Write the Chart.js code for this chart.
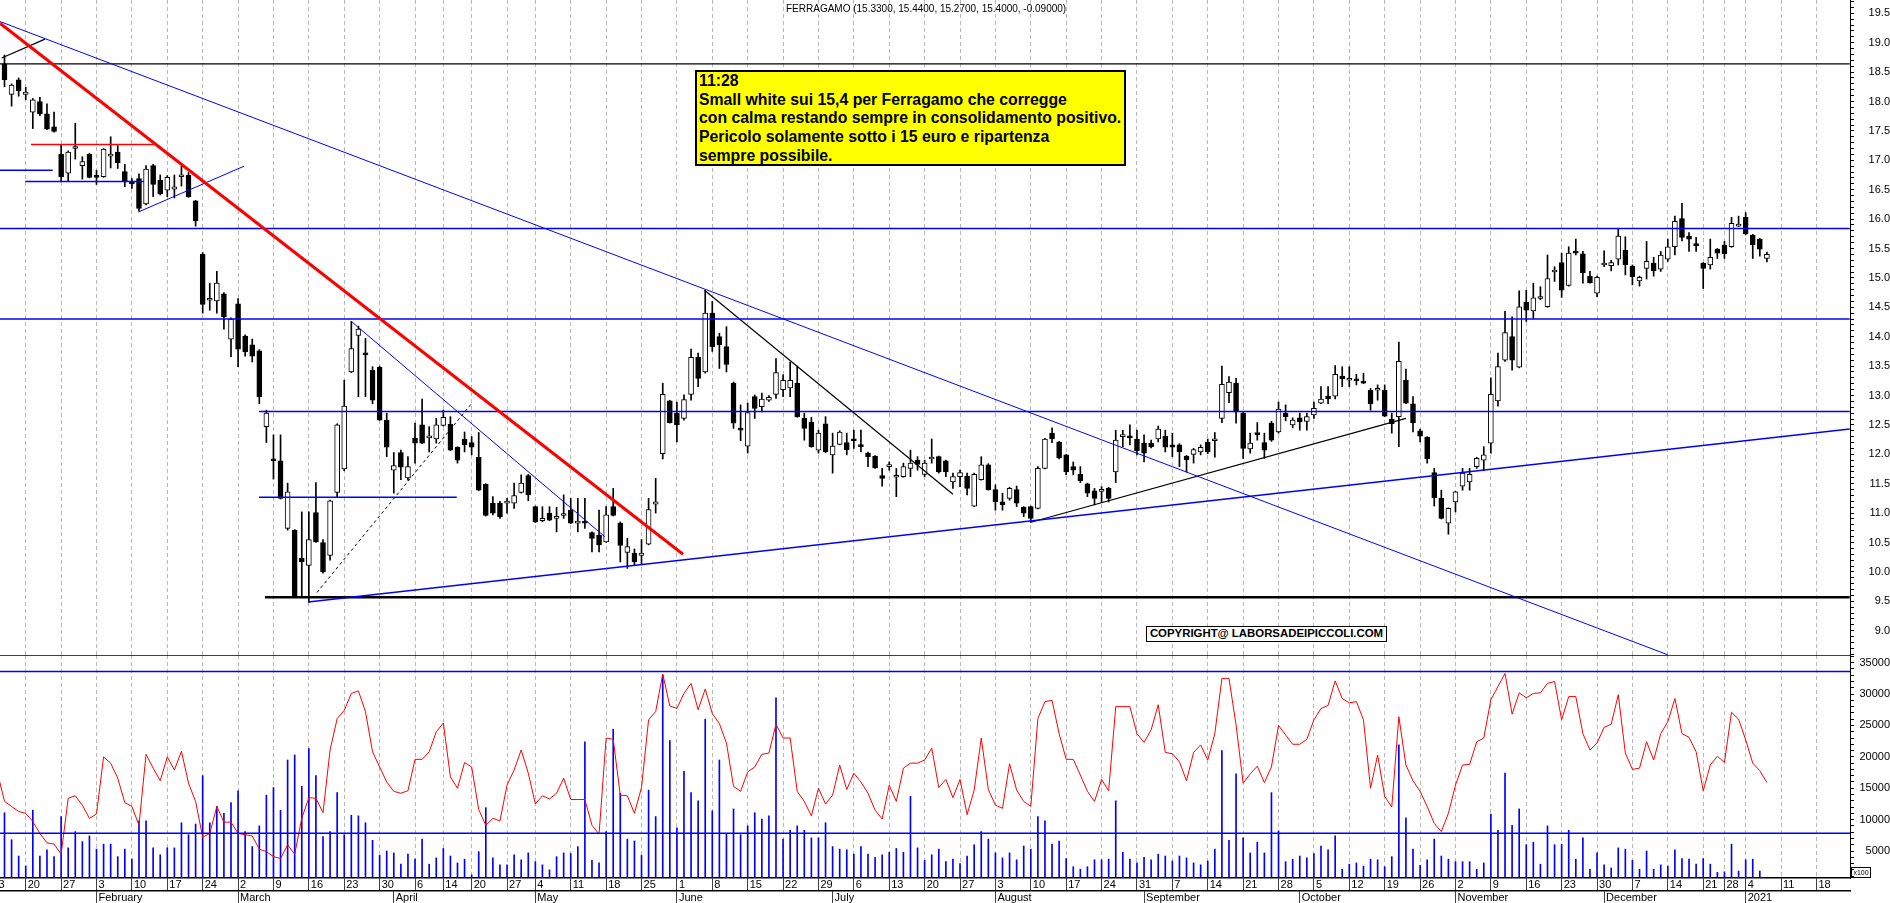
<!DOCTYPE html>
<html>
<head>
<meta charset="utf-8">
<title>FERRAGAMO</title>
<script src="https://cdn.jsdelivr.net/npm/chart.js@4.4.1/dist/chart.umd.min.js"></script>
<style>
  body { margin: 0; background: #fff; }
  #wrap { position: relative; width: 1890px; height: 903px; overflow: hidden; font-family: "Liberation Sans", Arial, sans-serif; color: #000; }
  #priceCanvas { position: absolute; left: 0; top: 0; }
  #volCanvas { position: absolute; left: 0; top: 653px; }
  #title { position: absolute; left: 786px; top: 3px; font-size: 10px; line-height: 12px; letter-spacing: 0; white-space: nowrap; }
  #note { position: absolute; left: 695px; top: 70px; width: 431px; height: 96px; box-sizing: border-box; background: #ffff00; border: 2px solid #000; padding: 0 0 0 2px; font-weight: bold; font-size: 15.8px; line-height: 18.7px; white-space: nowrap; }
  #copy { position: absolute; left: 1146px; top: 626px; width: 241px; height: 16px; box-sizing: border-box; border: 1.5px solid #000; background: #fff; font-weight: bold; font-size: 11.4px; line-height: 13px; text-align: center; white-space: nowrap; }
  #unit { position: absolute; left: 1851px; top: 867px; width: 20px; height: 11px; box-sizing: border-box; border: 1px solid #000; font-size: 7px; line-height: 9px; text-align: center; }
</style>
</head>
<body>
<div id="wrap">
  <canvas id="priceCanvas" width="1890" height="655"></canvas>
  <canvas id="volCanvas" width="1890" height="250"></canvas>
  <div id="title">FERRAGAMO (15.3300, 15.4400, 15.2700, 15.4000, -0.09000)</div>
  <div id="note">11:28<br>Small white sui 15,4 per Ferragamo che corregge<br>con calma restando sempre in consolidamento positivo.<br>Pericolo solamente sotto i 15 euro e ripartenza<br>sempre possibile.</div>
  <div id="copy">COPYRIGHT@ LABORSADEIPICCOLI.COM</div>
  <div id="unit">x100</div>
</div>
<script>
// trading day index 0 = 15 Jan 2020, last candle = 7 Jan 2021
const opens = [18.64,18.12,18.37,18.12,17.82,18.00,17.79,17.57,17.10,16.78,
 17.20,16.91,17.10,16.73,16.72,17.07,17.14,16.81,16.61,16.69,
 16.26,16.91,16.66,16.49,16.51,16.72,16.75,16.31,15.40,14.62,
 14.61,14.73,13.96,14.56,14.01,13.86,13.76,12.47,11.90,11.89,
 10.74,10.71,10.23,10.11,11.01,10.50,10.28,11.35,11.75,13.40,
 14.02,13.70,13.43,13.48,12.58,11.73,12.03,11.60,12.27,12.50,
 12.28,12.26,12.49,12.51,12.12,12.26,12.20,11.95,11.49,11.17,
 11.17,11.17,11.17,11.35,11.64,11.11,10.87,11.00,10.91,10.96,
 11.05,10.83,10.84,10.67,10.62,10.51,11.11,10.83,10.33,10.32,
 10.28,10.47,11.15,12.01,12.91,12.70,12.61,13.02,13.65,13.40,
 14.40,14.00,13.83,13.21,12.42,12.14,12.98,12.81,12.92,13.02,
 13.10,13.13,13.21,12.61,12.55,12.07,12.52,11.99,12.17,12.20,
 12.26,12.14,12.02,11.97,11.64,11.79,11.61,11.62,11.76,11.90,
 11.66,11.92,11.96,11.89,11.53,11.62,11.63,11.12,11.57,11.82,
 11.40,11.19,11.25,11.40,11.10,11.11,11.08,11.76,12.36,12.21,
 11.99,11.79,11.66,11.50,11.38,11.37,11.42,11.70,12.30,12.29,
 12.26,12.19,12.19,12.26,12.31,12.16,12.16,11.97,12.00,12.04,
 12.21,12.23,12.61,13.05,13.21,12.70,12.09,12.37,12.20,12.53,
 12.38,12.70,12.50,12.62,12.56,12.67,12.87,12.99,12.99,13.33,
 13.26,13.28,13.22,13.09,13.09,13.09,12.60,12.64,13.26,12.86,
 12.40,12.29,11.69,11.25,10.83,11.19,11.46,11.53,11.79,11.90,
 12.19,12.91,13.60,14.00,13.48,14.59,14.44,14.65,14.51,15.10,
 15.26,14.87,15.43,15.41,15.03,14.74,15.22,15.21,15.32,15.47,
 15.20,14.95,15.16,15.25,15.15,15.32,15.53,16.01,15.71,15.56,
 15.25,15.22,15.49,15.56,15.53,15.88,16.03,15.73,15.66,15.33];
const highs = [18.79,18.30,18.40,18.24,18.05,18.07,17.96,17.82,17.26,17.16,
 17.63,17.06,17.12,16.83,17.20,17.40,17.25,16.93,16.69,16.77,
 16.91,16.93,16.75,16.74,16.75,16.90,16.79,16.32,15.43,14.91,
 15.11,14.75,14.32,14.65,14.03,13.96,13.78,12.75,12.33,12.33,
 11.51,10.72,11.02,11.02,11.52,10.55,11.22,12.52,13.26,14.26,
 14.18,13.97,13.49,13.50,12.70,12.03,12.07,11.96,12.53,12.94,
 12.47,12.61,12.75,12.64,12.13,12.38,12.30,12.37,11.50,11.28,
 11.20,11.25,11.51,11.65,11.66,11.12,11.11,11.11,11.10,11.31,
 11.25,11.25,11.25,10.68,11.05,11.11,11.42,10.85,10.57,10.39,
 10.55,11.25,11.59,13.21,12.92,12.89,13.01,13.79,13.72,14.79,
 14.60,14.06,14.17,13.23,12.84,12.87,13.01,13.04,13.00,13.63,
 13.35,13.57,13.50,12.70,12.63,12.41,12.64,12.36,12.40,12.36,
 12.41,12.41,12.04,11.98,11.76,11.87,11.76,11.85,12.07,11.96,
 11.90,12.26,11.97,11.90,11.68,11.73,11.68,11.68,11.96,11.84,
 11.48,11.34,11.44,11.46,11.11,11.12,11.79,12.27,12.45,12.22,
 12.00,11.87,11.79,11.51,11.42,11.45,11.44,12.41,12.41,12.50,
 12.41,12.33,12.24,12.48,12.41,12.36,12.18,11.98,12.10,12.16,
 12.26,12.37,13.50,13.32,13.29,12.72,12.36,12.54,12.36,12.56,
 12.89,12.84,12.62,12.70,12.70,12.89,13.15,13.15,13.51,13.49,
 13.49,13.36,13.38,13.12,13.18,13.18,12.70,13.91,13.45,12.98,
 12.43,12.30,11.76,11.39,11.09,11.37,11.76,11.76,11.95,12.13,
 13.30,13.72,14.43,14.34,14.78,14.79,14.91,14.85,15.39,15.19,
 15.42,15.53,15.66,15.45,15.11,15.03,15.46,15.30,15.84,15.70,
 15.22,15.03,15.62,15.35,15.45,15.66,16.05,16.27,15.77,15.69,
 15.26,15.66,15.50,15.62,16.03,16.05,16.11,15.74,15.67,15.44];
const lows = [18.25,17.92,18.09,18.03,17.54,17.76,17.52,17.48,16.64,16.64,
 17.02,16.68,16.70,16.59,16.71,16.87,16.86,16.55,16.52,16.14,
 16.24,16.38,16.41,16.38,16.36,16.56,16.37,15.88,14.40,14.45,
 14.40,14.13,13.66,13.49,13.67,13.57,12.86,12.20,11.58,11.24,
 10.71,9.56,9.58,9.48,10.50,9.98,10.20,11.28,11.72,13.39,
 12.98,12.98,12.86,12.58,11.96,11.34,11.57,11.56,11.85,12.18,
 12.04,12.19,12.48,12.06,11.85,12.04,11.99,11.38,10.95,10.97,
 10.91,11.00,11.08,11.34,11.21,10.84,10.85,10.87,10.68,10.91,
 10.82,10.68,10.74,10.34,10.34,10.50,10.95,10.17,10.06,10.12,
 10.12,10.46,11.00,11.92,12.53,12.21,12.58,12.92,13.15,13.38,
 13.75,13.46,13.40,12.44,12.23,12.02,12.61,12.72,12.90,12.95,
 12.98,12.98,12.63,12.24,12.12,12.02,12.03,11.68,12.16,11.99,
 12.10,12.04,11.79,11.76,11.46,11.73,11.28,11.61,11.62,11.73,
 11.62,11.85,11.68,11.62,11.42,11.45,11.31,11.11,11.56,11.39,
 11.05,11.05,11.22,11.11,10.94,10.85,11.07,11.75,12.20,11.92,
 11.65,11.65,11.52,11.28,11.14,11.19,11.19,11.52,12.13,12.16,
 11.99,11.87,12.11,12.21,12.04,11.96,11.79,11.70,11.85,11.99,
 12.01,11.95,12.54,12.88,12.53,11.93,12.02,12.24,11.93,12.22,
 12.36,12.57,12.45,12.41,12.41,12.61,12.86,12.86,12.94,13.15,
 13.15,13.18,13.20,12.75,12.92,12.64,12.36,12.13,12.86,12.38,
 12.21,11.85,11.12,10.90,10.64,11.02,11.39,11.39,11.76,11.72,
 12.02,12.82,13.58,13.43,13.47,14.26,14.31,14.63,14.50,14.94,
 14.67,14.86,15.39,14.91,14.91,14.68,15.19,15.12,15.22,15.05,
 14.88,14.86,14.98,15.03,15.11,15.28,15.39,15.63,15.45,15.45,
 14.82,15.15,15.33,15.33,15.52,15.87,15.73,15.33,15.37,15.27];
const closes = [18.37,18.28,18.18,18.16,18.03,17.79,17.53,17.49,16.72,17.14,
 17.21,16.98,16.71,16.71,17.19,17.10,16.96,16.64,16.60,16.18,
 16.85,16.59,16.43,16.71,16.55,16.73,16.38,15.97,14.55,14.63,
 14.91,14.34,14.30,13.79,13.74,13.67,12.98,12.70,11.89,11.25,
 11.36,9.58,10.17,10.55,10.51,10.00,11.21,12.50,12.82,13.80,
 14.13,13.69,12.92,12.58,12.12,11.81,11.78,11.79,12.19,12.19,
 12.29,12.50,12.63,12.07,11.90,12.16,12.12,11.39,10.96,11.00,
 10.94,11.19,11.30,11.51,11.31,10.85,10.91,10.88,10.92,10.97,
 10.83,10.84,10.83,10.57,10.46,10.97,10.96,10.45,10.43,10.17,
 10.32,11.06,11.19,13.02,12.54,12.50,12.93,13.65,13.29,14.40,
 13.83,13.86,13.53,12.53,12.41,12.71,12.78,12.94,12.97,13.39,
 13.26,13.26,12.64,12.44,12.13,12.36,12.04,12.14,12.38,12.08,
 12.23,12.13,11.96,11.77,11.59,11.80,11.62,11.79,11.85,11.83,
 11.85,11.93,11.70,11.70,11.62,11.69,11.42,11.66,11.82,11.40,
 11.19,11.14,11.42,11.17,11.00,10.91,11.76,12.26,12.26,11.94,
 11.70,11.73,11.55,11.34,11.25,11.38,11.25,12.24,12.31,12.28,
 12.06,12.02,12.13,12.43,12.12,12.12,12.04,11.91,12.08,12.12,
 12.04,12.24,13.19,13.23,12.72,12.10,12.19,12.33,12.07,12.24,
 12.77,12.64,12.58,12.55,12.64,12.78,12.94,12.94,13.36,13.28,
 13.27,13.25,13.21,12.86,13.10,12.65,12.52,13.58,12.87,12.54,
 12.31,11.92,11.26,10.91,11.08,11.36,11.68,11.66,11.93,11.99,
 13.02,13.49,14.07,13.60,14.51,14.45,14.66,14.66,14.99,15.11,
 14.79,15.42,15.42,15.09,14.92,15.01,15.23,15.26,15.71,15.22,
 15.02,15.01,15.28,15.12,15.39,15.53,15.96,15.69,15.66,15.55,
 15.16,15.35,15.42,15.41,15.93,15.89,15.75,15.56,15.49,15.40];

// volume (x100) and its average line
const volumes = [11100,6800,4200,2600,11500,4200,5200,4100,10500,5500,
 8100,6500,7400,5300,6100,6100,4100,5300,3700,9800,
 9800,5500,4400,5500,5500,9500,7600,9300,17000,9500,
 12100,11000,12700,14600,8100,5700,9000,13900,15100,11500,
 19500,20300,15300,21300,17000,7300,8100,14300,7600,10700,
 10600,9500,6700,4300,5000,4700,2900,4500,3700,6900,
 2900,3900,5400,4200,3100,3700,1200,4900,11900,3900,
 2800,2800,4400,3600,4700,3300,2800,2000,4100,4700,
 4600,5700,22400,3500,3100,8100,24400,14200,6900,6600,
 4300,14700,10500,33000,22600,8700,17700,14300,13000,26000,
 11400,19500,7800,11700,7600,9000,11100,10100,10600,29400,
 6900,8300,9000,8300,7100,7100,9500,5700,5300,5200,
 4500,5700,4500,4000,4400,4800,5400,4800,13700,5500,
 3500,4400,5300,3300,3700,3000,4200,6000,8100,6900,
 4700,3900,4700,3600,5800,5300,10500,9800,6100,6600,
 3800,2500,2100,2500,3600,3600,3700,13000,4800,3700,
 3100,4000,3600,4500,4200,3400,4200,3900,3100,2800,
 3400,5300,21000,6700,17300,7100,4700,6400,4700,14300,
 8200,3300,3700,4200,3900,4600,5800,5200,7400,2100,
 2900,3100,2600,3700,3600,2500,4100,21900,10300,5300,
 2700,3600,6900,4200,3700,3300,3300,3300,2100,3100,
 10900,8300,17400,9100,11700,6000,6400,2900,9000,6000,
 6100,8300,3700,7100,2100,4700,2800,2300,5500,5300,
 3500,2100,5000,2100,2800,2600,5200,3800,3700,2900,
 3800,2900,1600,1700,6100,1800,3600,3700,1800,null];
const volumeAvg = [12900,12100,11300,11000,9700,7800,6300,6100,4500,13400,
 13800,12300,10200,10900,20000,19000,16600,12700,12100,9100,
 20400,18200,16200,20000,17900,20900,15800,12900,7200,7800,
 12100,9600,9600,7800,7600,7400,5300,4900,4100,3800,
 6000,4500,10200,13500,13400,11100,21100,26100,27400,30100,
 30500,27200,20800,18400,16000,14500,14200,14600,19600,19600,
 20800,24000,25400,16800,15000,19100,18400,11600,9100,10200,
 9800,15500,17900,21100,17400,12500,13800,13300,14200,16600,
 13200,13200,13200,9100,7700,23000,22800,13900,13800,11000,
 15100,25900,27200,33200,28100,27700,30100,31700,27500,30800,
 26900,25300,22200,15300,14500,17600,18400,20400,20600,25200,
 23000,23000,14500,12900,10600,15000,12500,13900,18700,14800,
 17400,16000,14200,11500,10100,15500,12900,18200,19000,19000,
 19500,21400,15100,16400,13500,16400,10800,14700,23000,14800,
 12300,11800,18900,14700,12900,12100,26100,28800,29000,23700,
 19600,19600,17100,14500,12900,16400,14600,28000,28000,28000,
 23700,22300,24300,28300,20700,20500,19200,16200,20700,21900,
 19500,23700,32500,32500,25100,15800,17300,18500,15900,18400,
 25000,23500,22000,22000,22800,25900,27700,28200,32100,29300,
 28600,28800,25900,15000,20300,13700,12000,26400,18700,16200,
 14500,12100,9400,8100,11000,15500,18700,18800,22400,23000,
 29100,31200,33300,26800,30200,29400,30100,30200,31700,32000,
 25900,29600,29600,23700,21100,22200,24700,25200,29900,20600,
 18000,18200,22400,19500,23700,25600,29300,23700,23100,20800,
 14600,18700,20100,19100,27100,26000,22700,19000,17800,15900];
// average on 14 Jan 2020, the day before the first candle (off the left edge)
const volumeAvgBefore = 17500;

// x-axis: first trading day of each week, first trading day of each month
const weekStarts = [-2,3,8,13,18,23,28,33,38,43,48,53,58,62,66,71,75,80,85,90,95,100,105,110,115,120,125,130,135,140,145,150,155,160,165,170,175,180,185,190,195,200,205,210,215,220,225,230,235,240,243,246,251,256];
const weekLabels = ['13','20','27','3','10','17','24','2','9','16','23','30','6','14','20','27','4','11','18','25','1','8','15','22','29','6','13','20','27','3','10','17','24','31','7','14','21','28','5','12','19','26','2','9','16','23','30','7','14','21','28','4','11','18'];
const monthStarts = [13,33,55,75,95,117,140,161,183,205,226,246];
const monthLabels = ['February','March','April','May','June','July','August','September','October','November','December','2021'];

// drawn trend / level lines: [x1, price1, x2, price2]
const linesBlue = [[-0.64,15.84,260.7,15.84],[-0.64,14.30,260.7,14.30],[35.96,12.73,260.7,12.73],[35.96,11.27,63.9,11.27],[-0.64,16.83,6.81,16.83],[2.94,16.64,19.7,16.64],[42.9,9.49,260.7,12.43]];
const linesBlueThin = [[-0.64,19.36,235.0,8.59],[49.0,14.26,84.8,10.60],[18.9,16.12,33.84,16.90]];
const linesBlack = [[-0.64,18.64,260.7,18.64],[98.9,14.79,134.0,11.32],[144.9,10.84,198.0,12.61],[-0.4,18.74,5.72,19.06]];
const linesBlackThick = [[36.8,9.57,260.7,9.57]];
const linesBlackDash = [[44.15,9.65,65.9,12.85]];
const linesRedThick = [[-0.64,19.33,95.86,10.30]];
const linesRedThin = [[3.74,17.27,21.1,17.27]];
const volumeLevels = [33610, 7817];

const FONT = '"Liberation Sans", Arial, sans-serif';
const X_MIN = -0.636, X_MAX = 260.74;
const PRICE_MIN = 8.587, PRICE_MAX = 19.726;
const VOL_MIN = 700, VOL_MAX = 36225;
const GRID = '#b8b8b8';

Chart.defaults.font.family = FONT;
Chart.defaults.font.size = 11;
Chart.defaults.color = '#000';

const days = opens.map((_, i) => i);

function segs(list, color, width, dash) {
  return list.map(s => ({
    type: 'line',
    data: [{ x: s[0], y: s[1] }, { x: s[2], y: s[3] }],
    borderColor: color,
    borderWidth: width,
    borderDash: dash || [],
    pointRadius: 0,
    fill: false,
    order: 0
  }));
}

function noPad(s) {
  s.paddingTop = 0; s.paddingBottom = 0; s.paddingLeft = 0; s.paddingRight = 0;
}

const common = {
  responsive: false,
  maintainAspectRatio: false,
  animation: false,
  events: [],
  plugins: { legend: { display: false }, tooltip: { enabled: false } }
};

// price panel
new Chart(document.getElementById('priceCanvas'), {
  type: 'bar',
  data: {
    datasets: [
      ...segs(linesRedThick, '#ff0000', 3),
      ...segs(linesRedThin, '#ff0000', 1.5),
      ...segs(linesBlue, '#0000ff', 1.5),
      ...segs(linesBlueThin, '#0000ff', 1),
      ...segs(linesBlack, '#000000', 1.2),
      ...segs(linesBlackThick, '#000000', 2.5),
      ...segs(linesBlackDash, '#000000', 1, [3, 3]),
      {
        type: 'bar',
        data: days.map(i => ({ x: i, y: [opens[i], closes[i]] })),
        backgroundColor: c => closes[c.dataIndex] >= opens[c.dataIndex] ? '#ffffff' : '#000000',
        borderColor: '#000000',
        borderWidth: 1,
        borderSkipped: false,
        barThickness: 5,
        minBarLength: 2,
        grouped: false,
        order: 1
      },
      {
        type: 'bar',
        data: days.map(i => ({ x: i, y: [lows[i], highs[i]] })),
        backgroundColor: '#000000',
        barThickness: 1,
        grouped: false,
        order: 2
      }
    ]
  },
  options: {
    ...common,
    layout: { padding: 0 },
    scales: {
      x: {
        type: 'linear', min: X_MIN, max: X_MAX, offset: false, position: 'bottom',
        afterBuildTicks: s => { s.ticks = weekStarts.map(v => ({ value: v })); },
        afterFit: s => { s.height = 0; noPad(s); },
        ticks: { display: false },
        grid: { offset: false, color: GRID, lineWidth: 1, drawTicks: false },
        border: { display: false, dash: [4, 3] }
      },
      y: {
        type: 'linear', position: 'right', min: PRICE_MIN, max: PRICE_MAX, beginAtZero: false,
        afterBuildTicks: s => {
          const t = [];
          for (let k = 86; k <= 197; k++) t.push({ value: k / 10 });
          s.ticks = t;
        },
        afterFit: s => { s.width = 40; noPad(s); },
        ticks: {
          autoSkip: false, crossAlign: 'far', padding: 12,
          callback: v => (Math.round(v * 10) % 5 === 0 ? v.toFixed(1) : '')
        },
        grid: { drawOnChartArea: false, tickLength: 4, tickColor: '#000' },
        border: { color: '#000', width: 1 }
      }
    }
  }
});

// volume panel
new Chart(document.getElementById('volCanvas'), {
  type: 'bar',
  data: {
    datasets: [
      {
        type: 'line',
        data: [{ x: X_MIN, y: VOL_MAX }, { x: X_MAX, y: VOL_MAX }],
        borderColor: '#000000', borderWidth: 1.5, pointRadius: 0, order: 0
      },
      ...volumeLevels.map(v => ({
        type: 'line',
        data: [{ x: X_MIN, y: v }, { x: X_MAX, y: v }],
        borderColor: '#0000ff', borderWidth: 1.5, pointRadius: 0, order: 0
      })),
      {
        type: 'line',
        data: [{ x: -1, y: volumeAvgBefore }].concat(days.map(i => ({ x: i, y: volumeAvg[i] }))),
        borderColor: '#ff0000', borderWidth: 1, pointRadius: 0, tension: 0, order: 1
      },
      {
        type: 'bar',
        data: days.map(i => ({ x: i, y: volumes[i] })),
        backgroundColor: '#0000ff',
        barThickness: 1,
        grouped: false,
        clip: 0,
        order: 2
      }
    ]
  },
  options: {
    ...common,
    layout: { padding: { top: 2, left: 0, right: 0, bottom: 0 } },
    scales: {
      x: {
        type: 'linear', min: X_MIN, max: X_MAX, offset: false, position: 'bottom',
        afterBuildTicks: s => { s.ticks = weekStarts.map(v => ({ value: v })); },
        afterFit: s => { s.height = 13; noPad(s); },
        ticks: {
          autoSkip: false, maxRotation: 0, minRotation: 0, align: 'start', labelOffset: 2, padding: -13,
          callback: v => weekLabels[weekStarts.indexOf(v)]
        },
        grid: { offset: false, color: GRID, lineWidth: 1, drawTicks: true, tickLength: 13, tickColor: '#000', tickWidth: 1, tickBorderDash: [1, 0] },
        border: { display: true, color: '#000', width: 1.5, dash: [4, 3] }
      },
      xm: {
        type: 'linear', min: X_MIN, max: X_MAX, offset: false, position: 'bottom',
        afterBuildTicks: s => { s.ticks = monthStarts.map(v => ({ value: v })); },
        afterFit: s => { s.height = 12; noPad(s); },
        ticks: {
          autoSkip: false, maxRotation: 0, minRotation: 0, align: 'start', labelOffset: 2, padding: -12,
          callback: v => monthLabels[monthStarts.indexOf(v)]
        },
        grid: { offset: false, drawOnChartArea: false, drawTicks: true, tickLength: 12, tickColor: '#000', tickWidth: 1, tickBorderDash: [1, 0] },
        border: { display: true, color: '#000', width: 1.5 }
      },
      y: {
        type: 'linear', position: 'right', min: VOL_MIN, max: VOL_MAX, beginAtZero: false,
        afterBuildTicks: s => {
          const t = [];
          for (let k = 1; k <= 36; k++) t.push({ value: k * 1000 });
          s.ticks = t;
        },
        afterFit: s => { s.width = 40; noPad(s); },
        ticks: {
          autoSkip: false, crossAlign: 'far', padding: 2,
          callback: v => (v % 5000 === 0 ? String(v) : '')
        },
        grid: { drawOnChartArea: false, tickLength: 4, tickColor: '#000' },
        border: { color: '#000', width: 1 }
      }
    }
  }
});
</script>
</body>
</html>
